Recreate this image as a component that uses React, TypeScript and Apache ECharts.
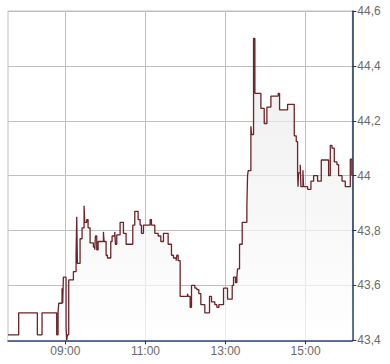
import React, { useEffect, useRef } from "react";
import * as echarts from "echarts";

// time in minutes after midnight at which the price changed
const times = [
  454, 470, 498, 505, 527, 529, 530, 535, 536, 537, 541, 542, 543, 545, 552, 556, 557, 558,
  562, 565, 568, 569, 572, 574, 577, 582, 584, 585, 587, 589, 597, 598, 601, 603, 608, 610,
  614, 615, 617, 622, 627, 631, 641, 644, 649, 652, 654, 657, 667, 669, 674, 679, 683, 687,
  694, 699, 702, 706, 707, 709, 712, 723, 724, 727, 729, 734, 737, 740, 743, 749, 756, 759,
  764, 767, 770, 777, 783, 790, 792, 795, 797, 798, 801, 805, 812, 813, 814, 818, 819, 822,
  824, 833, 838, 842, 848, 859, 861, 873, 883, 886, 888, 888.6, 889.5, 892, 893, 896, 897,
  903, 908, 912, 918, 923.5, 934.5, 937, 939.6, 943, 947, 949.5, 954.6, 959.5, 967, 969.3, 970,
];
// price after each change
const prices = [
  43.42, 43.5, 43.42, 43.5, 43.42, 43.5, 43.535, 43.59, 43.535, 43.63, 43.45, 43.4, 43.42, 43.62, 43.65, 43.71, 43.85, 43.68,
  43.77, 43.81, 43.89, 43.83, 43.84, 43.81, 43.755, 43.74, 43.73, 43.78, 43.73, 43.76, 43.795, 43.76, 43.71, 43.7, 43.76, 43.78,
  43.795, 43.75, 43.784, 43.83, 43.79, 43.75, 43.82, 43.87, 43.84, 43.82, 43.79, 43.82, 43.84, 43.82, 43.79, 43.78, 43.76, 43.79,
  43.75, 43.71, 43.7, 43.69, 43.71, 43.69, 43.56, 43.57, 43.56, 43.52, 43.6, 43.59, 43.585, 43.57, 43.53, 43.5, 43.56, 43.54,
  43.53, 43.52, 43.53, 43.59, 43.55, 43.6, 43.63, 43.61, 43.63, 43.66, 43.75, 43.83, 43.89, 44.0, 44.018, 44.18, 44.15, 44.5,
  44.3, 44.245, 44.19, 44.25, 44.29, 44.3, 44.24, 44.26, 44.145, 44.124, 44.01, 43.96, 44.01, 44.04, 43.96, 44.02, 43.96,
  43.95, 43.98, 44.0, 43.98, 44.057, 44.0, 44.11, 44.1, 44.05, 44.04, 44.0, 43.98, 43.96, 44.06, 44.0, 44.0,
];
const xTickMinutes = [540, 660, 780, 900];
const yMin = 43.4;
const yMax = 44.6;
const yStep = 0.2;

const fmtTime = (m: number) => {
  const h = Math.floor(m / 60);
  const mm = Math.round(m - h * 60);
  return String(h).padStart(2, "0") + ":" + String(mm).padStart(2, "0");
};

export default function App() {
  const ref = useRef<HTMLDivElement>(null);
  useEffect(() => {
    if (!ref.current) return;
    const chart = echarts.init(ref.current, undefined, { renderer: "svg" });
    const data = times.map((t, i) => [t, prices[i]]);
    const axisColor = "#1d3465";
    const gridColor = "#c0c0c0";
    const labelColor = "#6a6a6a";
    chart.setOption({
      animation: false,
      backgroundColor: "#ffffff",
      grid: {
        left: 8,
        top: 11,
        right: 37.7,
        bottom: 23.7,
        show: true,
        borderColor: gridColor,
        borderWidth: 1,
        containLabel: false,
        outerBoundsMode: "none",
      },
      xAxis: {
        type: "value",
        min: 454,
        max: 970,
        axisLine: { show: true, onZero: false, lineStyle: { color: axisColor, width: 1.5 } },
        axisTick: { show: true, length: 4, customValues: xTickMinutes, lineStyle: { color: axisColor } },
        axisLabel: {
          customValues: xTickMinutes,
          formatter: (v: number) => fmtTime(v),
          color: labelColor,
          fontFamily: "Liberation Sans, Arial, sans-serif",
          fontSize: 12,
          margin: 5,
        },
        splitLine: { show: true, lineStyle: { color: gridColor, width: 1 } },
      },
      yAxis: {
        type: "value",
        position: "right",
        min: yMin,
        max: yMax,
        interval: yStep,
        axisLine: { show: true, lineStyle: { color: axisColor, width: 1.5 } },
        axisTick: { show: true, length: 4, lineStyle: { color: axisColor } },
        axisLabel: {
          formatter: (v: number) => String(Math.round(v * 10) / 10).replace(".", ","),
          color: labelColor,
          fontFamily: "Liberation Sans, Arial, sans-serif",
          fontSize: 12,
          margin: 5,
        },
        splitLine: { show: true, lineStyle: { color: gridColor, width: 1 } },
      },
      series: [
        {
          type: "line",
          step: "end",
          data,
          showSymbol: false,
          symbol: "none",
          lineStyle: { color: "#6b2429", width: 1.3 },
          areaStyle: {
            origin: "start",
            color: new echarts.graphic.LinearGradient(0, 0, 0, 1, [
              { offset: 0, color: "#e6e6e6" },
              { offset: 1, color: "#ffffff" },
            ]),
          },
        },
      ],
    });
    return () => chart.dispose();
  }, []);
  return (
    <div
      ref={ref}
      style={{ position: "fixed", left: 0, top: 0, width: 390, height: 364 }}
    />
  );
}
